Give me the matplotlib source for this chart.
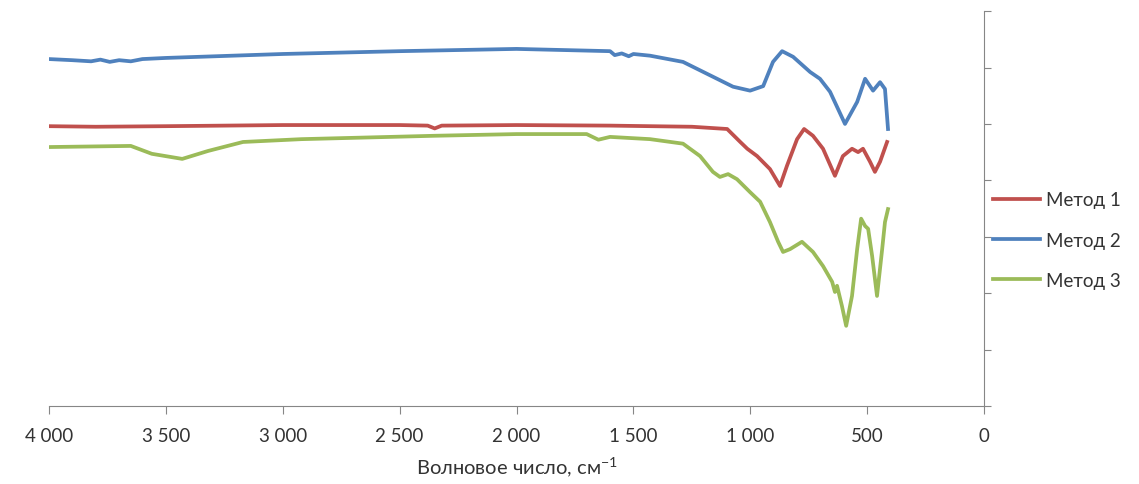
import matplotlib
matplotlib.use("Agg")
import matplotlib.pyplot as plt

plt.rcParams['font.family'] = ['Lato', 'DejaVu Sans']

# Метод 1 (red)
wn1 = [4000, 3800, 3500, 3000, 2500, 2380, 2350, 2320, 2000, 1600, 1429, 1250, 1099,
       1043, 1013, 971, 916, 873, 843, 800, 770, 732, 689, 638, 604, 565, 539, 518,
       488, 467, 445, 415]
y1 = [4.96, 4.95, 4.96, 4.98, 4.98, 4.97, 4.92, 4.97, 4.98, 4.97, 4.96, 4.95, 4.91,
      4.68, 4.56, 4.43, 4.20, 3.90, 4.26, 4.73, 4.91, 4.79, 4.56, 4.08, 4.43, 4.56, 4.50, 4.56,
      4.33, 4.15, 4.33, 4.68]

# Метод 2 (blue)
wn2 = [4000, 3900, 3820, 3780, 3740, 3700, 3650, 3600, 3500, 3000, 2500, 2000, 1800,
       1600, 1580, 1550, 1520, 1500, 1429, 1288, 1142, 1074, 1001, 945, 903, 864, 817,
       744, 702, 659, 595, 543, 509, 475, 445, 424, 411]
y2 = [6.15, 6.13, 6.11, 6.14, 6.10, 6.13, 6.11, 6.15, 6.17, 6.24, 6.29, 6.33, 6.31,
      6.29, 6.22, 6.25, 6.20, 6.24, 6.21, 6.10, 5.80, 5.66, 5.59, 5.67, 6.10, 6.29, 6.19,
      5.92, 5.80, 5.57, 5.00, 5.39, 5.80, 5.59, 5.74, 5.62, 4.91]

# Метод 3 (green)
wn3 = [4000, 3650, 3560, 3430, 3320, 3170, 2920, 2350, 2000, 1700, 1650, 1600, 1429,
       1288, 1215, 1160, 1130, 1095, 1057, 1001, 958, 916, 881, 860, 830, 779, 732, 689,
       650, 638, 629, 608, 590, 565, 543, 526, 509, 496, 479, 458, 436, 424, 411]
y3 = [4.59, 4.61, 4.47, 4.38, 4.52, 4.68, 4.73, 4.79, 4.82, 4.82, 4.72, 4.77, 4.73,
      4.65, 4.43, 4.15, 4.06, 4.11, 4.02, 3.79, 3.62, 3.26, 2.91, 2.73, 2.78, 2.91, 2.73, 2.48,
      2.20, 2.02, 2.13, 1.77, 1.42, 1.95, 2.78, 3.32, 3.19, 3.14, 2.66, 1.95, 2.78, 3.26, 3.49]

xticks = [4000, 3500, 3000, 2500, 2000, 1500, 1000, 500, 0]
xticklabels = ['4 000', '3 500', '3 000', '2 500', '2 000', '1 500', '1 000', '500', '0']

fig = plt.figure(figsize=(11.39, 4.85), dpi=100)
ax = fig.add_axes([0.043, 0.161, 0.821, 0.814])

ax.plot(wn1, y1, color='#C0504D', lw=2.7, label='Метод 1')
ax.plot(wn2, y2, color='#4F81BD', lw=2.7, label='Метод 2')
ax.plot(wn3, y3, color='#9BBB59', lw=2.7, label='Метод 3')

ax.set_xlim(4000, 0)
ax.set_ylim(0, 7)
ax.set_xticks(xticks)
ax.set_xticklabels(xticklabels, fontsize=13.5, color='#333333')
ax.set_yticks(range(8))
ax.yaxis.tick_right()
ax.tick_params(axis='y', labelright=False, length=5, color='#868686', direction='out')
ax.tick_params(axis='x', length=6, color='#868686', direction='out', pad=9)

for s in ['left', 'top']:
    ax.spines[s].set_visible(False)
for s in ['bottom', 'right']:
    ax.spines[s].set_color('#868686')

ax.set_xlabel('Волновое число, см$^{\\mathregular{-1}}$', fontsize=14.5, color='#333333', labelpad=8)

fig.legend(loc='center left', bbox_to_anchor=(0.872, 0.503), frameon=False,
           fontsize=13.5, handlelength=2.5, handletextpad=0.3, labelspacing=1.25,
           borderpad=0, borderaxespad=0, labelcolor='#333333')

fig.savefig('out.png', dpi=100)
